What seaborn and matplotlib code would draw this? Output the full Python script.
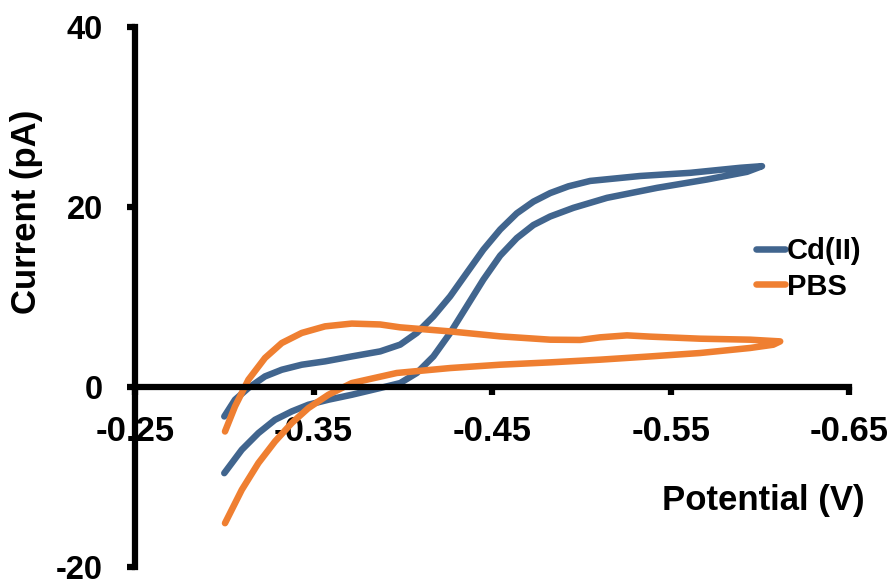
import matplotlib
matplotlib.use("Agg")
import matplotlib.pyplot as plt
import numpy as np
import pandas as pd
import seaborn as sns

# Cd(II) cyclic voltammogram: forward (lower) branch and return (upper) branch
cd_fwd_v = [-0.300, -0.3098, -0.3191, -0.3284, -0.3378, -0.3471, -0.3583, -0.3714, -0.3873,
            -0.3985, -0.4078, -0.4171, -0.4265, -0.4358, -0.4451, -0.4545, -0.4638, -0.4731,
            -0.4825, -0.4955, -0.5143, -0.5423, -0.5703, -0.5927, -0.6011]
cd_fwd_i = [-9.57, -6.97, -5.12, -3.64, -2.71, -1.97, -1.41, -0.86, -0.11,
            0.44, 1.56, 3.40, 6.01, 8.97, 11.94, 14.60, 16.55, 18.00,
            18.95, 19.91, 21.02, 22.13, 23.06, 23.91, 24.54]
cd_rev_v = [-0.300, -0.3060, -0.3135, -0.3228, -0.3322, -0.3434, -0.3564, -0.3714, -0.3873,
            -0.3985, -0.4078, -0.4171, -0.4265, -0.4358, -0.4451, -0.4545, -0.4638, -0.4731,
            -0.4825, -0.4927, -0.5049, -0.5329, -0.5609, -0.5889, -0.6011]
cd_rev_i = [-3.27, -1.41, -0.11, 1.18, 1.92, 2.48, 2.85, 3.40, 3.96,
            4.71, 6.01, 7.85, 10.08, 12.68, 15.27, 17.50, 19.30, 20.60,
            21.55, 22.30, 22.90, 23.45, 23.80, 24.36, 24.54]

# PBS blank
pbs_fwd_v = [-0.3004, -0.3098, -0.3191, -0.3284, -0.3378, -0.3471, -0.3583, -0.3714, -0.3966,
             -0.4265, -0.4545, -0.4825, -0.5105, -0.5385, -0.5665, -0.5945, -0.6074, -0.6113]
pbs_fwd_i = [-15.13, -11.42, -8.45, -6.05, -4.00, -2.34, -0.86, 0.44, 1.56,
             2.11, 2.48, 2.74, 3.04, 3.40, 3.78, 4.34, 4.70, 5.07]
pbs_rev_v = [-0.3004, -0.3060, -0.3135, -0.3228, -0.3322, -0.3434, -0.3564, -0.3714, -0.3873,
             -0.3985, -0.4265, -0.4545, -0.4825, -0.4993, -0.5105, -0.5255, -0.5385, -0.5665,
             -0.5945, -0.6113]
pbs_rev_i = [-4.94, -2.16, 0.81, 3.23, 4.89, 6.01, 6.74, 7.05, 6.95,
             6.63, 6.18, 5.63, 5.26, 5.23, 5.52, 5.74, 5.60, 5.37,
             5.26, 5.07]

x_ticks = [-0.25, -0.35, -0.45, -0.55, -0.65]
x_tick_labels = ["-0.25", "-0.35", "-0.45", "-0.55", "-0.65"]
y_ticks = [-20, 0, 20, 40]
y_tick_labels = ["-20", "0", "20", "40"]

colors = {"Cd(II)": "#41658E", "PBS": "#EF7F31"}


def loop(name, fv, fi, rv, ri):
    v = list(fv) + list(rv[::-1])
    i = list(fi) + list(ri[::-1])
    return pd.DataFrame({"potential": v, "current": i, "sample": name, "step": np.arange(len(v))})


df = pd.concat([
    loop("Cd(II)", cd_fwd_v, cd_fwd_i, cd_rev_v, cd_rev_i),
    loop("PBS", pbs_fwd_v, pbs_fwd_i, pbs_rev_v, pbs_rev_i),
], ignore_index=True)

sns.set_style("white")
plt.rcParams["font.family"] = ["Liberation Sans", "DejaVu Sans"]
plt.rcParams["font.weight"] = "bold"
for key in ["text.color", "axes.labelcolor", "xtick.color", "ytick.color"]:
    plt.rcParams[key] = "black"

fig = plt.figure(figsize=(8.94, 5.79), dpi=100)
ax = fig.add_axes([0.151, 0.0207, 0.799, 0.9326])

sns.lineplot(
    data=df, x="potential", y="current", hue="sample", palette=colors,
    sort=False, estimator=None, linewidth=4.7, ax=ax, legend=False,
    solid_capstyle="round", solid_joinstyle="round",
)

ax.set_xlim(-0.25, -0.65)
ax.set_ylim(-20, 40)

for s in ["top", "right"]:
    ax.spines[s].set_visible(False)
ax.spines["bottom"].set_position(("data", 0))
for s in ["left", "bottom"]:
    ax.spines[s].set_linewidth(4.5)
    ax.spines[s].set_color("black")

ax.set_xticks(x_ticks)
ax.set_xticklabels(x_tick_labels, fontsize=25, fontweight="bold")
ax.set_yticks(y_ticks)
ax.set_yticklabels(y_tick_labels, fontsize=23.5, fontweight="bold")
ax.tick_params(axis="x", bottom=True, direction="out", length=6, width=4.5, pad=14, color="black")
ax.tick_params(axis="y", left=True, direction="out", length=6, width=4.5, pad=17, color="black")

ax.set_xlabel("Potential (V)", fontsize=25, fontweight="bold")
ax.set_ylabel("Current (pA)", fontsize=25, fontweight="bold")
ax.xaxis.set_label_coords(0.8796, 0.154)
ax.yaxis.set_label_coords(-0.129, 0.657)

handles = [plt.Line2D([], [], color=colors[k], linewidth=4.7, solid_capstyle="round") for k in colors]
fig.legend(
    handles, list(colors.keys()), loc="center left", bbox_to_anchor=(0.846, 0.5354),
    frameon=False, handlelength=1.0, handletextpad=0.05,
    labelspacing=0.25, borderpad=0, borderaxespad=0,
    prop={"weight": "bold", "size": 21},
)

fig.savefig("out.png", dpi=100)
